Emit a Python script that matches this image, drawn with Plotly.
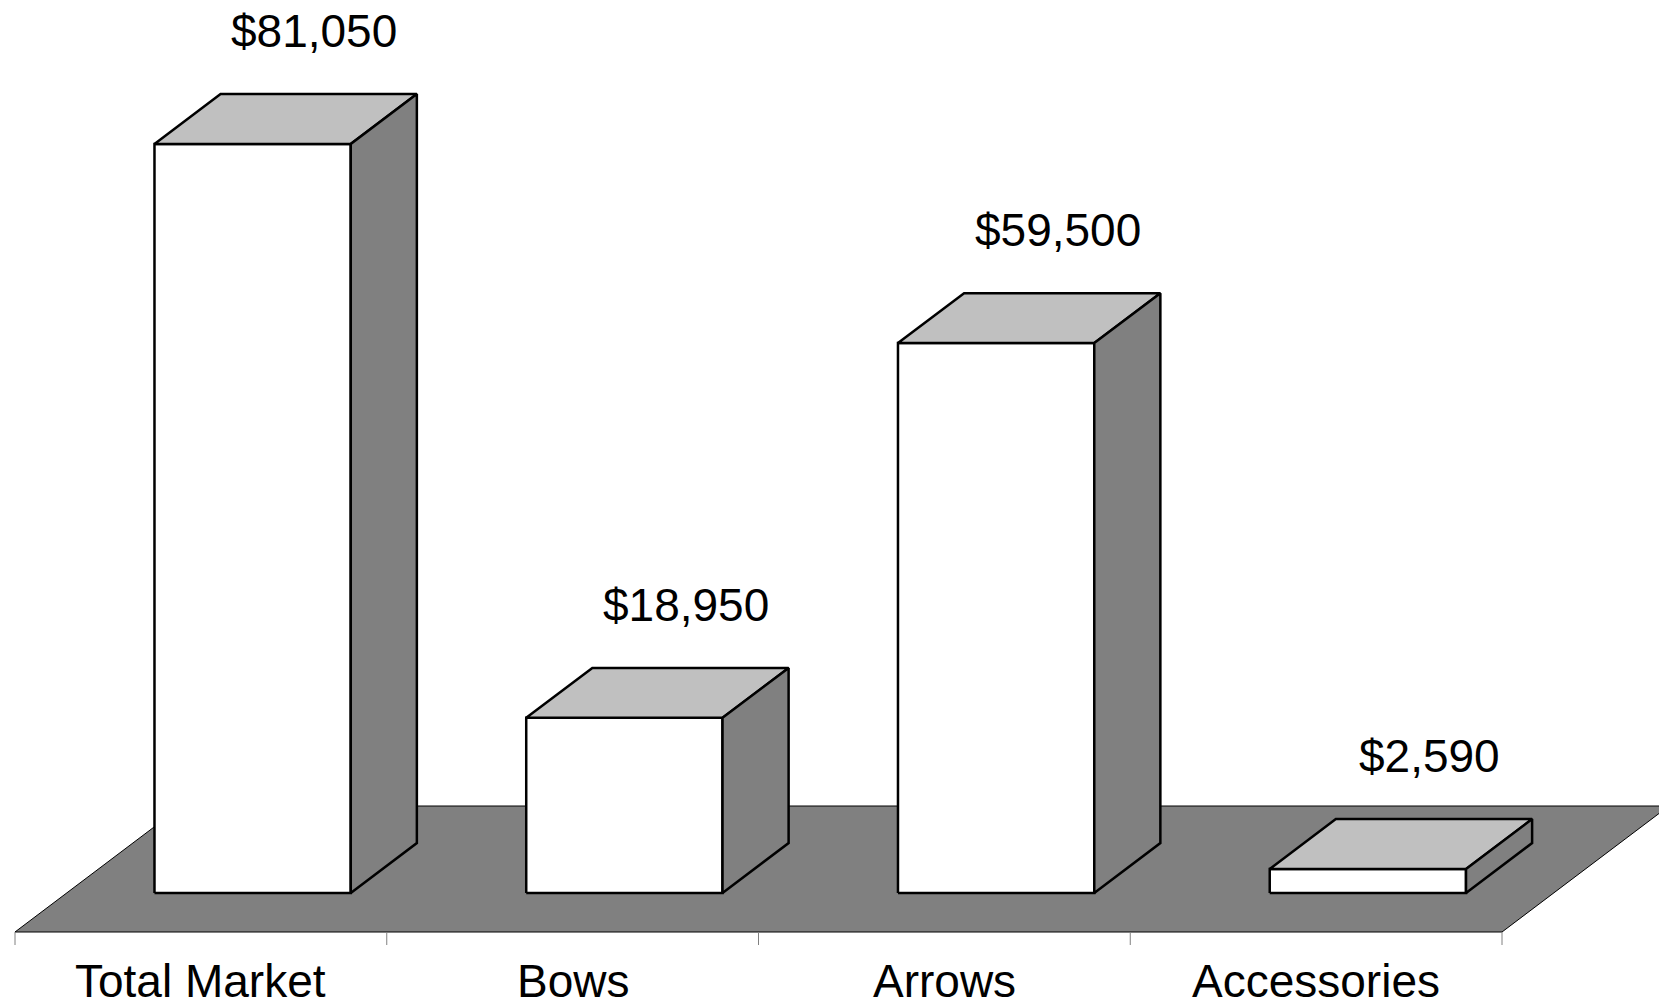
import plotly.graph_objects as go

# ---- data ----
categories = ["Total Market", "Bows", "Arrows", "Accessories"]
values = [81050, 18950, 59500, 2590]
value_labels = ["$81,050", "$18,950", "$59,500", "$2,590"]

# ---- projection / style constants ----
DXU = 0.449      # horizontal shift (category units) across the full floor depth
DYV = 13634.0    # vertical shift (value units) across the full floor depth
ZF, ZB = 0.31, 0.706   # bar front / back depth
HALF = 0.264           # half bar width (category units)
UNITS_PER_PX = 108.21
SLOT_PX = 371.75
FONT = "Liberation Sans, Arial, sans-serif"
PAGE_MARGIN = 8  # default body margin of the html page


def proj(u, v, z):
    return u + z * DXU, v + z * DYV


def poly(pts):
    xs, ys = [], []
    for p in pts + [pts[0]]:
        x, y = proj(*p)
        xs.append(x)
        ys.append(y)
    return xs, ys


fig = go.Figure()

n = len(categories)
# floor
fx, fy = poly([(0, 0, 0), (n, 0, 0), (n, 0, 1), (0, 0, 1)])
fig.add_trace(go.Scatter(x=fx, y=fy, mode="lines", fill="toself",
                         fillcolor="#808080", line=dict(color="black", width=1)))

# tick marks along front edge
for i in range(n + 1):
    fig.add_trace(go.Scatter(x=[i, i], y=[0, -13 * UNITS_PER_PX], mode="lines",
                             line=dict(color="#808080", width=1)))

annotations = []
for i, (cat, h, lab) in enumerate(zip(categories, values, value_labels)):
    c = i + 0.5
    l, r = c - HALF, c + HALF
    faces = [
        ([(l, 0, ZF), (r, 0, ZF), (r, h, ZF), (l, h, ZF)], "white"),
        ([(l, h, ZF), (r, h, ZF), (r, h, ZB), (l, h, ZB)], "#C0C0C0"),
        ([(r, 0, ZF), (r, 0, ZB), (r, h, ZB), (r, h, ZF)], "#808080"),
    ]
    for pts, col in faces:
        xs, ys = poly(pts)
        fig.add_trace(go.Scatter(x=xs, y=ys, mode="lines", fill="toself",
                                 fillcolor=col, line=dict(color="black", width=2.5)))
    lx, ly = proj(c, h, 0.68)
    annotations.append(dict(x=lx, y=ly + 66 * UNITS_PER_PX, text=lab, showarrow=False,
                            xanchor="center", yanchor="middle",
                            font=dict(family=FONT, size=46, color="black")))
    annotations.append(dict(x=c, y=-49 * UNITS_PER_PX, text=cat, showarrow=False,
                            xanchor="center", yanchor="middle",
                            font=dict(family=FONT, size=46, color="black")))

W, H = 1667, 1004
fig.update_layout(
    width=W - PAGE_MARGIN, height=H - PAGE_MARGIN,
    margin=dict(l=0, r=0, t=0, b=0),
    paper_bgcolor="white", plot_bgcolor="white",
    showlegend=False, hovermode=False,
    annotations=annotations,
    xaxis=dict(range=[(PAGE_MARGIN - 15) / SLOT_PX, (W - 15) / SLOT_PX],
               visible=False, fixedrange=True),
    yaxis=dict(range=[(932 - H) * UNITS_PER_PX, (932 - PAGE_MARGIN) * UNITS_PER_PX],
               visible=False, fixedrange=True),
)

fig.write_html("out.html")
